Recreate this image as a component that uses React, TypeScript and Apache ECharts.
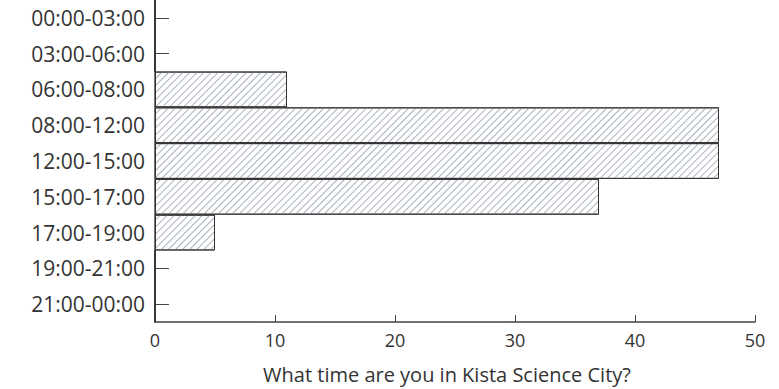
import React, { useEffect, useRef } from "react";
import * as echarts from "echarts";

const categories = [
  "00:00-03:00",
  "03:00-06:00",
  "06:00-08:00",
  "08:00-12:00",
  "12:00-15:00",
  "15:00-17:00",
  "17:00-19:00",
  "19:00-21:00",
  "21:00-00:00",
];
const counts = [0, 0, 11, 47, 47, 37, 5, 0, 0];
const xTitle = "What time are you in Kista Science City?";

export default function App() {
  const ref = useRef<HTMLDivElement>(null);
  useEffect(() => {
    if (!ref.current) return;
    const chart = echarts.init(ref.current, null, { renderer: "svg" });
    const font = "Open Sans";
    chart.setOption({
      animation: false,
      grid: { left: 155, right: 24, top: -3, bottom: 64, containLabel: false },
      xAxis: {
        type: "value",
        min: 0,
        max: 50,
        interval: 10,
        name: xTitle,
        nameLocation: "middle",
        nameGap: 42,
        nameTextStyle: { fontFamily: font, fontSize: 20, color: "#333", padding: [0, 16, 0, 0] },
        axisLine: { show: true, lineStyle: { color: "#444", width: 1.5 } },
        axisTick: { show: true, inside: true, length: 7, lineStyle: { color: "#444" } },
        axisLabel: { fontFamily: font, fontSize: 18, color: "#333", margin: 9 },
        splitLine: { show: false },
      },
      yAxis: {
        type: "category",
        data: categories,
        inverse: true,
        axisLine: { show: true, lineStyle: { color: "#444", width: 1.5 } },
        axisTick: { show: true, inside: true, alignWithLabel: true, length: 14, lineStyle: { color: "#444" } },
        axisLabel: { fontFamily: font, fontSize: 21, color: "#333", margin: 10, padding: [5, 0, 0, 0] },
      },
      series: [
        {
          type: "bar",
          data: counts,
          barCategoryGap: 0,
          itemStyle: {
            color: "#ffffff",
            borderColor: "#333",
            borderWidth: 1,
            decal: {
              symbol: "rect",
              dashArrayX: [1, 0],
              dashArrayY: [1, 3.6],
              rotation: -Math.PI / 4,
              color: "#aab3bd",
              symbolSize: 1,
            },
          },
        },
      ],
    });
    return () => chart.dispose();
  }, []);
  return <div ref={ref} style={{ width: 779, height: 389, position: "absolute", left: 0, top: 0 }} />;
}
